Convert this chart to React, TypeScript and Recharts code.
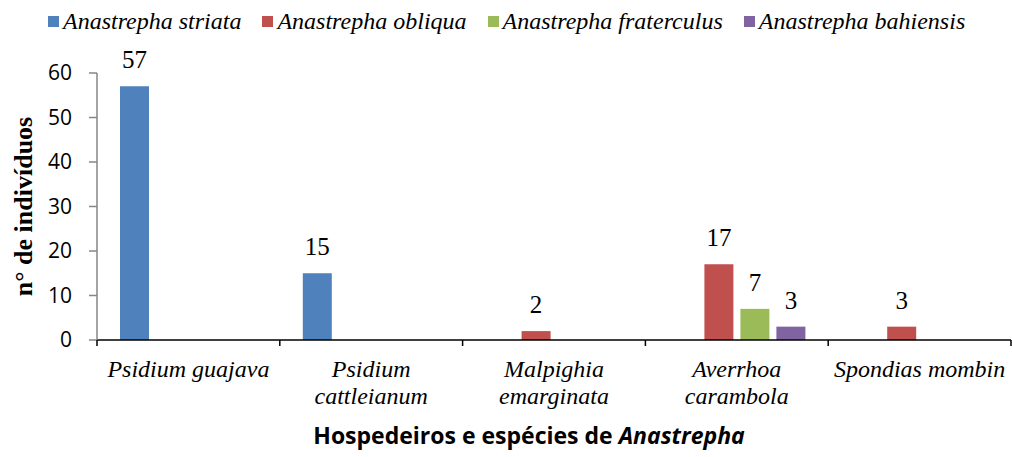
import { BarChart, Bar, XAxis, YAxis, Legend, LabelList } from "recharts";

document.body.style.margin = "0";

const HOSTS = [
  "Psidium guajava",
  "Psidium\ncattleianum",
  "Malpighia\nemarginata",
  "Averrhoa\ncarambola",
  "Spondias mombin",
];
const STRIATA = [57, 15, 0, 0, 0];
const OBLIQUA = [0, 0, 2, 17, 3];
const FRATERCULUS = [0, 0, 0, 7, 0];
const BAHIENSIS = [0, 0, 0, 3, 0];
const Y_TICKS = [0, 10, 20, 30, 40, 50, 60];

const SERIES = [
  { key: "striata", name: "Anastrepha striata", color: "#4F81BD" },
  { key: "obliqua", name: "Anastrepha obliqua", color: "#C0504D" },
  { key: "fraterculus", name: "Anastrepha fraterculus", color: "#9BBB59" },
  { key: "bahiensis", name: "Anastrepha bahiensis", color: "#8064A2" },
];

const data = HOSTS.map((host, i) => ({
  host,
  striata: STRIATA[i],
  obliqua: OBLIQUA[i],
  fraterculus: FRATERCULUS[i],
  bahiensis: BAHIENSIS[i],
}));

const SERIF = "'Liberation Serif', 'Times New Roman', serif";
const SANS = "'Open Sans', 'Liberation Sans', sans-serif";

// x tick: label lines plus tick marks at the category edges (Excel style)
function HostTick(props: any) {
  const { x, y, payload, index, visibleTicksCount } = props;
  const half = payload.offset || 0;
  const lines = String(payload.value).split("\n");
  return (
    <g>
      <line x1={x - half} x2={x - half} y1={y - 8} y2={y - 2} stroke="#000" strokeWidth={1.5} />
      {index === visibleTicksCount - 1 && (
        <line x1={x + half} x2={x + half} y1={y - 8} y2={y - 2} stroke="#000" strokeWidth={1.5} />
      )}
      <text x={x} y={y} textAnchor="middle" fontFamily={SERIF} fontStyle="italic" fontSize={24} fill="#000">
        {lines.map((l, i) => (
          <tspan key={i} x={x} dy={i === 0 ? 28.5 : 27.5}>
            {l}
          </tspan>
        ))}
      </text>
    </g>
  );
}

function ValueLabel(props: any) {
  const { x, y, width, value } = props;
  if (!value) return null;
  return (
    <text x={x + width / 2} y={y - 18} textAnchor="middle" fontFamily={SERIF} fontSize={25} fill="#000">
      {value}
    </text>
  );
}

function LegendBox() {
  return (
    <div style={{ display: "flex", alignItems: "center", paddingLeft: 48 }}>
      {SERIES.map((s) => (
        <div key={s.key} style={{ display: "flex", alignItems: "center", marginRight: 21 }}>
          <span style={{ width: 11, height: 11, background: s.color, marginRight: 4, display: "inline-block" }} />
          <span style={{ fontFamily: SERIF, fontStyle: "italic", fontSize: 24, color: "#000", lineHeight: "26px" }}>
            {s.name}
          </span>
        </div>
      ))}
    </div>
  );
}

export default function App() {
  return (
    <BarChart
      width={1012}
      height={457}
      data={data}
      margin={{ top: 73, right: 1, bottom: 0, left: 0 }}
      barCategoryGap={23}
      barGap={7}
    >
      <Legend
        verticalAlign="middle"
        align="center"
        content={() => <LegendBox />}
        wrapperStyle={{ top: 8, left: 0, width: 1012 }}
      />
      <XAxis
        dataKey="host"
        height={117}
        interval={0}
        axisLine={{ stroke: "#000", strokeWidth: 1.5 }}
        tickLine={false}
        tick={<HostTick />}
        label={{
          content: (p: any) => {
            const vb = p.viewBox;
            return (
              <text
                x={vb.x + vb.width / 2 - 25}
                y={444}
                textAnchor="middle"
                fontFamily={SANS}
                fontWeight="bold"
                fontSize={23}
                fill="#000"
              >
                Hospedeiros e espécies de <tspan fontStyle="italic">Anastrepha</tspan>
              </text>
            );
          },
        }}
      />
      <YAxis
        width={97}
        domain={[0, 60]}
        ticks={Y_TICKS}
        interval={0}
        axisLine={{ stroke: "#868686", strokeWidth: 1.5 }}
        tickLine={{ stroke: "#868686", strokeWidth: 1.5 }}
        tickSize={8}
        tickMargin={17}
        tick={{ fontFamily: SANS, fontSize: 21, fill: "#000" }}
        label={{
          content: (p: any) => {
            const vb = p.viewBox;
            const cy = vb.y + vb.height / 2;
            return (
              <text
                x={32}
                y={cy}
                transform={`rotate(-90, 32, ${cy})`}
                textAnchor="middle"
                fontFamily={SERIF}
                fontWeight="bold"
                fontSize={26}
                fill="#000"
              >
                n° de indivíduos
              </text>
            );
          },
        }}
      />
      {SERIES.map((s) => (
        <Bar key={s.key} dataKey={s.key} name={s.name} fill={s.color} isAnimationActive={false}>
          <LabelList dataKey={s.key} content={<ValueLabel />} />
        </Bar>
      ))}
    </BarChart>
  );
}
